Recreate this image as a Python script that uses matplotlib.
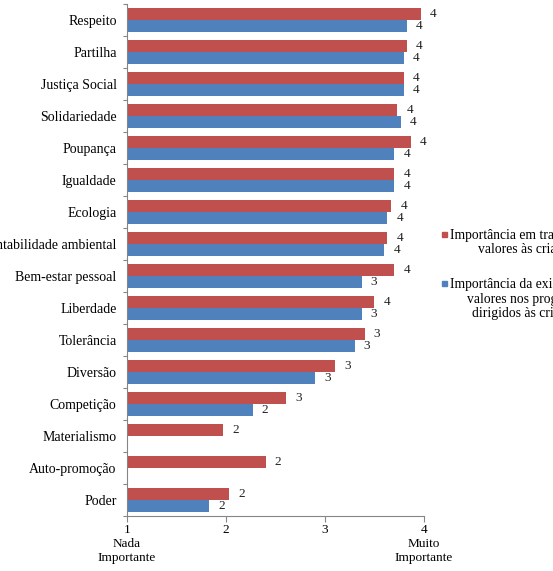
import numpy as np
import matplotlib.pyplot as plt
from matplotlib.patches import Rectangle

plt.rcParams['font.family'] = ['Liberation Serif', 'DejaVu Serif']

valores = ['Respeito', 'Partilha', 'Justiça Social', 'Solidariedade', 'Poupança',
           'Igualdade', 'Ecologia', 'Sustentabilidade ambiental', 'Bem-estar pessoal',
           'Liberdade', 'Tolerância', 'Diversão', 'Competição', 'Materialismo',
           'Auto-promoção', 'Poder']
# importancia em transmitir os valores (vermelho)
transmitir = [3.97, 3.83, 3.80, 3.73, 3.87, 3.70, 3.67, 3.63, 3.70, 3.50,
              3.40, 3.10, 2.61, 1.97, 2.40, 2.03]
# importancia da existencia nos programas (azul), None = sem valor
programas = [3.83, 3.80, 3.80, 3.77, 3.70, 3.70, 3.63, 3.60, 3.37, 3.37,
             3.30, 2.90, 2.27, None, None, 1.83]
xticks = [1, 2, 3, 4]
xlabels = ['1\nNada\nImportante', '2', '3', '4\nMuito\nImportante']
legenda = ['Importância em transmitir os\nvalores às crianças',
           'Importância da existência de\nvalores nos programas\ndirigidos às crianças']

red = '#C0504D'
blue = '#4F81BD'
axcol = '#868686'

fig = plt.figure(figsize=(5.53, 5.71), dpi=100)
ax = fig.add_axes([0.2297, 0.0963, 0.537, 0.8967])

y = np.arange(len(valores))
h = 0.36

ax.barh(y - h / 2, np.array(transmitir) - 1, left=1, height=h, color=red)
yb = [yy for yy, v in zip(y, programas) if v is not None]
vb = [v for v in programas if v is not None]
ax.barh(np.array(yb) + h / 2, np.array(vb) - 1, left=1, height=h, color=blue)

for yy, v in zip(y, transmitir):
    ax.annotate(f'{v:.0f}', (v, yy - h / 2), xytext=(6.5, 0), textcoords='offset points',
                va='center', ha='left', fontsize=9.5, color='#222222')
for yy, v in zip(yb, vb):
    ax.annotate(f'{v:.0f}', (v, yy + h / 2), xytext=(6.5, 0), textcoords='offset points',
                va='center', ha='left', fontsize=9.5, color='#222222')

ax.set_xlim(1, 4)
ax.set_ylim(len(valores) - 0.5, -0.5)
ax.set_xticks(xticks)
ax.set_xticklabels(xlabels, fontsize=9.5)

ax.set_yticks(np.arange(len(valores) + 1) - 0.5)
ax.set_yticklabels([])
ax.set_yticks(y, minor=True)
ax.set_yticklabels(valores, minor=True, fontsize=10)
ax.tick_params(axis='y', which='minor', length=0, pad=7.5)
ax.tick_params(axis='y', which='major', length=3, color=axcol)
ax.tick_params(axis='x', length=4, color=axcol, pad=2)

for s in ['top', 'right']:
    ax.spines[s].set_visible(False)
for s in ['left', 'bottom']:
    ax.spines[s].set_color(axcol)

# legenda a direita, cortada pela borda da figura como no original
for i, (txt, c) in enumerate(zip(legenda, [red, blue])):
    ytop = 1 - (229 + 49 * i) / 571
    fig.patches.append(Rectangle((442 / 553, ytop - 8 / 571), 5 / 553, 5 / 571,
                                 transform=fig.transFigure, color=c))
    fig.text(450 / 553, ytop, txt, ha='left', va='top', multialignment='center',
             fontsize=9.8, linespacing=1.15)

fig.savefig('out.png', dpi=100)
